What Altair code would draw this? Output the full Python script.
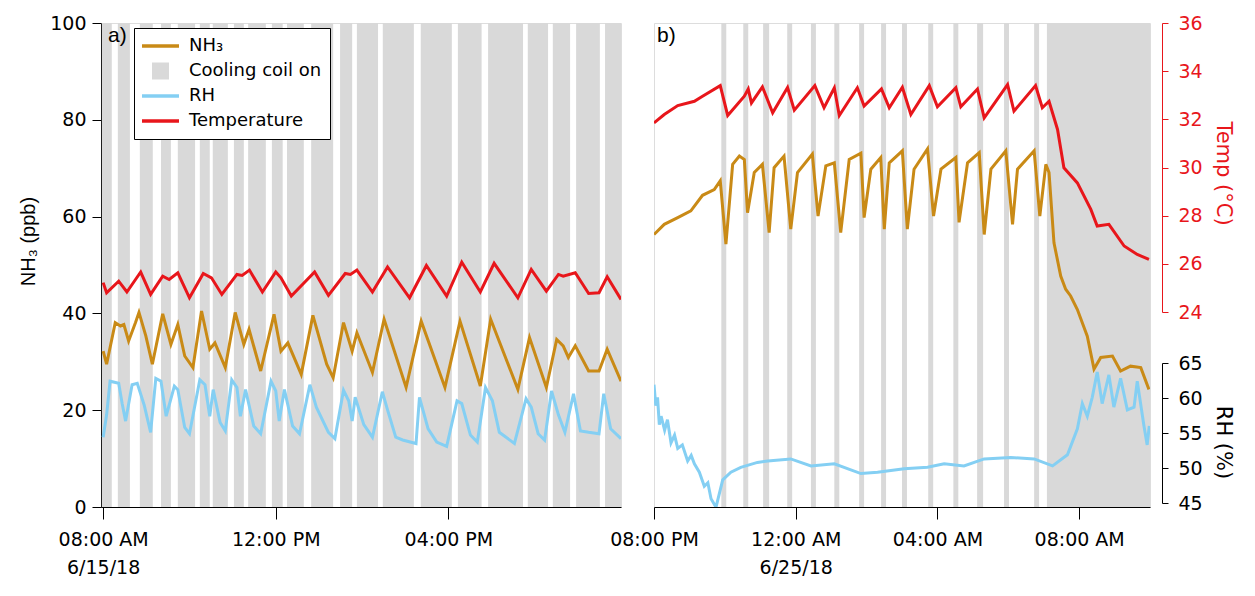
import altair as alt
import pandas as pd

# ---------------- data (decimal hours of the day) ----------------
# Panel a: 6/15/18
a_temp_h = [8.0, 8.08, 8.36, 8.55, 8.87, 9.10, 9.38, 9.53, 9.73, 10.00, 10.32, 10.51, 10.75, 11.10, 11.22,
            11.39, 11.69, 12.00, 12.12, 12.36, 12.90, 13.22, 13.61, 13.73, 13.88, 14.24, 14.59, 15.10, 15.49,
            15.96, 16.31, 16.74, 17.06, 17.61, 17.92, 18.27, 18.55, 18.66, 18.94, 19.25, 19.49, 19.68, 20.0]
a_temp = [25.22, 24.80, 25.28, 24.83, 25.66, 24.73, 25.49, 25.35, 25.63, 24.59, 25.60, 25.42, 24.73, 25.56, 25.52,
          25.74, 24.83, 25.66, 25.42, 24.66, 25.66, 24.69, 25.60, 25.56, 25.74, 24.83, 25.87, 24.59, 25.93,
          24.66, 26.07, 24.83, 26.02, 24.59, 25.77, 24.87, 25.56, 25.49, 25.63, 24.77, 24.80, 25.46, 24.52]

a_nh3_h = [8.0, 8.08, 8.28, 8.40, 8.48, 8.59, 8.75, 8.83, 8.99, 9.14, 9.38, 9.57, 9.73, 9.89, 10.08, 10.28,
           10.47, 10.59, 10.83, 11.06, 11.26, 11.38, 11.65, 11.96, 12.12, 12.28, 12.59, 12.86, 13.18, 13.33,
           13.57, 13.77, 13.88, 14.24, 14.51, 15.02, 15.37, 15.92, 16.27, 16.74, 16.98, 17.61, 17.88, 18.27,
           18.51, 18.66, 18.78, 18.94, 19.25, 19.49, 19.68, 20.0]
a_nh3 = [32.2, 29.5, 38.1, 37.4, 37.7, 34.3, 38.1, 40.2, 35.3, 29.5, 39.9, 33.6, 37.7, 31.2, 28.8, 40.5,
         32.6, 33.9, 28.8, 40.2, 33.6, 36.7, 28.1, 39.8, 32.2, 33.9, 27.4, 39.6, 29.5, 26.7,
         38.1, 32.2, 36.0, 27.8, 38.8, 24.7, 38.4, 24.7, 38.4, 25.0, 38.8, 24.3, 35.0, 24.7,
         34.6, 33.3, 30.9, 33.3, 28.1, 28.1, 32.6, 26.0]

a_rh_h = [8.0, 8.08, 8.16, 8.36, 8.44, 8.52, 8.67, 8.79, 8.95, 9.10, 9.22, 9.34, 9.46, 9.65, 9.73, 9.89,
          10.00, 10.24, 10.36, 10.47, 10.55, 10.71, 10.83, 10.98, 11.10, 11.18, 11.30, 11.49, 11.65, 11.89,
          12.00, 12.08, 12.20, 12.39, 12.55, 12.79, 12.94, 13.22, 13.37, 13.57, 13.69, 13.77, 13.84, 14.04,
          14.24, 14.47, 14.59, 14.78, 14.94, 15.25, 15.33, 15.53, 15.73, 15.96, 16.20, 16.31, 16.51, 16.67,
          16.86, 17.02, 17.18, 17.53, 17.80, 17.92, 18.08, 18.23, 18.39, 18.55, 18.70, 18.90, 19.06, 19.25,
          19.49, 19.60, 19.76, 20.0]
a_rh = [54.4, 57.6, 62.4, 62.1, 59.2, 56.7, 61.9, 62.1, 59.0, 55.1, 62.8, 62.4, 57.4, 61.7, 61.2, 55.8,
        54.9, 62.6, 61.9, 57.4, 61.2, 56.5, 55.3, 62.6, 61.5, 57.4, 61.2, 56.0, 54.9, 62.4,
        61.0, 56.7, 61.2, 56.0, 54.9, 61.9, 58.7, 55.1, 54.2, 61.1, 59.6, 56.7, 60.1, 56.2,
        54.4, 60.9, 58.3, 54.4, 54.0, 53.5, 60.1, 55.6, 53.7, 53.1, 59.6, 59.2, 54.7, 53.7,
        61.5, 59.6, 55.1, 53.5, 59.9, 58.7, 54.9, 54.0, 61.0, 57.6, 55.1, 60.6, 55.3, 55.1,
        54.9, 60.6, 55.6, 54.2]

a_coil_on = [7.97, 8.34, 8.85, 9.34, 9.73, 10.24, 10.54, 11.03, 11.36, 11.91, 12.26, 12.82, 13.49, 13.88,
             14.48, 15.36, 16.22, 16.92, 17.84, 18.42, 18.96, 19.63]
a_coil_off = [8.20, 8.62, 9.15, 9.57, 10.13, 10.47, 10.89, 11.26, 11.77, 12.16, 12.65, 13.33, 13.77, 14.37,
              15.20, 16.08, 16.77, 17.73, 18.31, 18.82, 19.51, 20.0]

# Panel b: hours counted from midnight of 6/24/18 (values > 24 fall on 6/25/18)
b_temp_h = [20.0, 20.29, 20.67, 21.14, 21.37, 21.87, 22.08, 22.55, 22.66, 22.75, 23.06, 23.35, 23.77, 23.96,
            24.54, 24.80, 25.09, 25.23, 25.74, 25.93, 26.42, 26.64, 27.01, 27.25, 27.77, 28.00, 28.52, 28.66,
            29.13, 29.32, 29.98, 30.16, 30.77, 30.96, 31.15, 31.39, 31.57, 31.95, 32.33, 32.51, 32.84, 33.27,
            33.64, 33.97]
b_temp = [31.85, 32.20, 32.57, 32.75, 32.96, 33.40, 32.16, 32.96, 33.26, 32.68, 33.35, 32.27, 33.32, 32.38,
          33.40, 32.48, 33.31, 32.16, 33.31, 32.55, 33.26, 32.48, 33.33, 32.20, 33.40, 32.52, 33.31, 32.52,
          33.26, 32.06, 33.44, 32.34, 33.40, 32.48, 32.75, 31.58, 29.99, 29.36, 28.26, 27.57, 27.64, 26.74,
          26.39, 26.18]

b_nh3_h = [20.0, 20.29, 20.67, 21.04, 21.37, 21.70, 21.87, 22.03, 22.22, 22.41, 22.55, 22.64, 22.83, 23.06,
           23.25, 23.39, 23.67, 23.86, 24.05, 24.47, 24.63, 24.85, 25.09, 25.27, 25.51, 25.84, 25.93, 26.12,
           26.40, 26.50, 26.64, 27.01, 27.15, 27.34, 27.72, 27.89, 28.10, 28.52, 28.61, 28.85, 29.18, 29.32,
           29.51, 29.93, 30.12, 30.26, 30.73, 30.89, 31.06, 31.15, 31.29, 31.48, 31.62, 31.76, 31.95, 32.23,
           32.42, 32.61, 32.94, 33.17, 33.45, 33.74, 33.97]
b_nh3 = [56.3, 58.4, 59.8, 61.2, 64.4, 65.6, 67.4, 54.3, 70.8, 72.5, 71.8, 60.8, 69.1, 70.8,
         56.7, 70.1, 72.5, 57.4, 69.1, 72.9, 60.1, 70.5, 71.1, 56.7, 71.8, 73.1, 59.8, 69.8,
         72.2, 57.4, 71.1, 73.6, 57.4, 69.8, 74.0, 60.1, 69.8, 72.2, 58.8, 71.1, 73.2, 56.3,
         69.8, 73.6, 58.4, 69.8, 73.6, 60.1, 70.8, 69.1, 54.6, 47.7, 45.0, 43.6, 40.8, 35.3,
         28.5, 30.9, 31.2, 28.1, 29.1, 28.8, 24.3]

b_rh_h = [20.0, 20.05, 20.10, 20.15, 20.20, 20.30, 20.38, 20.48, 20.58, 20.67, 20.80, 20.95, 21.05, 21.14,
          21.28, 21.42, 21.52, 21.61, 21.75, 21.94, 22.17, 22.45, 22.92, 23.21, 23.86, 24.43, 25.09, 25.84,
          26.31, 27.06, 27.72, 28.19, 28.75, 29.32, 30.07, 30.73, 31.25, 31.67, 31.95, 32.09, 32.23, 32.37,
          32.51, 32.65, 32.84, 32.98, 33.17, 33.36, 33.55, 33.64, 33.83, 33.92, 33.98]
b_rh = [61.9, 58.9, 60.1, 56.2, 57.4, 55.4, 56.9, 53.6, 54.7, 52.8, 53.3, 51.0, 51.8, 50.6,
        49.4, 47.4, 47.9, 45.6, 44.4, 48.3, 49.4, 50.1, 50.8, 51.0, 51.3, 50.3, 50.6, 49.2,
        49.4, 49.9, 50.1, 50.6, 50.3, 51.3, 51.5, 51.3, 50.3, 51.9, 55.6, 59.2, 57.4, 60.1,
        63.7, 59.2, 63.3, 58.7, 62.8, 58.3, 58.7, 62.4, 56.0, 53.3, 56.0]

b_coil_on = [21.90, 22.52, 23.08, 23.76, 24.43, 25.09, 25.79, 26.41, 27.00, 27.74, 28.45, 29.12, 29.88,
             30.73, 31.09]
b_coil_off = [22.04, 22.66, 23.25, 23.90, 24.57, 25.23, 25.93, 26.55, 27.14, 27.88, 28.59, 29.29, 30.02,
              30.87, 34.0]

legend_names = ["NH\u2083", "Cooling coil on", "RH", "Temperature"]

# ---------------- styling ----------------
C_NH3 = "#c98a16"
C_RH = "#84cff3"
C_T = "#e8161b"
C_COIL = "#d9d9d9"
LBL_FONT = "DejaVu Sans"
TTL_FONT = "Liberation Sans"
H = 484
WA = 520
WB = 496
LW = 3

# legend glyphs (unit-space SVG paths, scaled by the symbol size)
LINE_GLYPH = "M-1,-0.1L1,-0.1L1,0.1L-1,0.1Z"
SQUARE_GLYPH = "M-0.46,-0.46L0.46,-0.46L0.46,0.46L-0.46,0.46Z"


def ts(day, hours):
    base = pd.Timestamp(day)
    return [(base + pd.to_timedelta(h, unit="h")).strftime("%Y-%m-%dT%H:%M:%S") for h in hours]


def series(day, hours, vals):
    return pd.DataFrame({"t": ts(day, hours), "v": vals})


def coil(day, on, off):
    return pd.DataFrame({"s": ts(day, on), "e": ts(day, off)})


def dt(d, h, m=0):
    return alt.DateTime(year=2018, month=6, date=d, hours=h, minutes=m)


xaxis_common = dict(title=None, tickSize=12, labelPadding=11, labelLineHeight=28, labelFlush=False,
                    labelOverlap=False, labelFont=LBL_FONT, labelFontSize=19, labelColor="black",
                    domainColor="black", tickColor="black", grid=False)

xa_scale = alt.Scale(domain=[dt(15, 7, 57), dt(15, 20, 0)])
xa_axis = alt.Axis(values=[dt(15, 8), dt(15, 12), dt(15, 16)],
                   labelExpr="hours(datum.value) == 8 ? [timeFormat(datum.value, '%I:%M %p'), '6/15/18'] : timeFormat(datum.value, '%I:%M %p')",
                   **xaxis_common)
xb_scale = alt.Scale(domain=[dt(24, 20, 0), dt(25, 10, 0)])
xb_axis = alt.Axis(values=[dt(24, 20), dt(25, 0), dt(25, 4), dt(25, 8)],
                   labelExpr="hours(datum.value) == 0 ? [timeFormat(datum.value, '%I:%M %p'), '6/25/18'] : timeFormat(datum.value, '%I:%M %p')",
                   **xaxis_common)

nh3_scale = alt.Scale(domain=[0, 100])
temp_scale = alt.Scale(domain=[24, 36], range=[289, 0])
rh_scale = alt.Scale(domain=[45, 65], range=[480, 340])

nh3_axis = alt.Axis(values=[0, 20, 40, 60, 80, 100], title="NH\u2083 (ppb)", tickSize=9, labelPadding=6,
                    titlePadding=11, titleY=218, labelFont=LBL_FONT, labelFontSize=19, titleFont=TTL_FONT,
                    titleFontSize=20, titleFontWeight="normal", domainColor="black", tickColor="black",
                    labelColor="black", titleColor="black", grid=False)
temp_axis = alt.Axis(orient="right", offset=12, values=[24, 26, 28, 30, 32, 34, 36], title="Temp (\u00b0C)",
                     tickSize=6, labelPadding=10, titlePadding=10, titleY=150, labelFont=LBL_FONT,
                     labelFontSize=19, titleFont=LBL_FONT, titleFontSize=21, titleFontWeight="normal",
                     domainColor=C_T, tickColor=C_T, labelColor=C_T, titleColor=C_T, grid=False)
rh_axis = alt.Axis(orient="right", offset=12, values=[45, 50, 55, 60, 65], title="RH (%)",
                   tickSize=6, labelPadding=10, titlePadding=10, titleY=419, labelFont=LBL_FONT,
                   labelFontSize=19, titleFont=LBL_FONT, titleFontSize=21, titleFontWeight="normal",
                   domainColor="black", tickColor="black", labelColor="black", titleColor="black", grid=False)


def panel(xs, xax, coil_df, nh3_df, temp_df, rh_df, label, label_x, right_axes, width, extra=None):
    def X(f):
        return alt.X(f, scale=xs, axis=xax)
    stripes = alt.Chart(coil_df).mark_rect(color=C_COIL, clip=True).encode(x=X("s:T"), x2="e:T")
    nh3 = alt.Chart(nh3_df).mark_line(color=C_NH3, strokeWidth=LW, clip=True).encode(
        x=X("t:T"), y=alt.Y("v:Q", scale=nh3_scale, axis=None if right_axes else nh3_axis))
    temp = alt.Chart(temp_df).mark_line(color=C_T, strokeWidth=LW, clip=True).encode(
        x=X("t:T"), y=alt.Y("v:Q", scale=temp_scale, axis=temp_axis if right_axes else None))
    rh = alt.Chart(rh_df).mark_line(color=C_RH, strokeWidth=LW, clip=True).encode(
        x=X("t:T"), y=alt.Y("v:Q", scale=rh_scale, axis=rh_axis if right_axes else None))
    lab = alt.Chart(pd.DataFrame({"lab": [label]})).mark_text(
        font=TTL_FONT, fontSize=21, align="left", baseline="middle", color="black").encode(
        x=alt.value(label_x), y=alt.value(13), text="lab:N")
    layers = [stripes, rh, nh3, temp, lab]
    if extra is not None:
        layers.append(extra)
    return alt.layer(*layers).resolve_scale(y="independent").properties(width=width, height=H)


leg = alt.Legend(title=None, orient="none", legendX=33, legendY=5, padding=8,
                 fillColor="white", strokeColor="black",
                 labelFont=LBL_FONT, labelFontSize=18, labelColor="black", labelOffset=10,
                 symbolSize=1369, symbolStrokeWidth=0, clipHeight=20, rowPadding=5, symbolOpacity=1)
legend_layer = alt.Chart(pd.DataFrame({"k": legend_names})).transform_filter("false").mark_point(
    filled=True).encode(
    color=alt.Color("k:N", scale=alt.Scale(domain=legend_names, range=[C_NH3, C_COIL, C_RH, C_T]), legend=leg),
    shape=alt.Shape("k:N", scale=alt.Scale(domain=legend_names,
                                           range=[LINE_GLYPH, SQUARE_GLYPH, LINE_GLYPH, LINE_GLYPH]), legend=leg))

panel_a = panel(xa_scale, xa_axis, coil("2018-06-15", a_coil_on, a_coil_off),
                series("2018-06-15", a_nh3_h, a_nh3), series("2018-06-15", a_temp_h, a_temp),
                series("2018-06-15", a_rh_h, a_rh), "a)", 7, False, WA, legend_layer)
panel_b = panel(xb_scale, xb_axis, coil("2018-06-24", b_coil_on, b_coil_off),
                series("2018-06-24", b_nh3_h, b_nh3), series("2018-06-24", b_temp_h, b_temp),
                series("2018-06-24", b_rh_h, b_rh), "b)", 3, True, WB)

chart = alt.hconcat(panel_a, panel_b, spacing=33, bounds="flush").properties(
    padding={"left": 10, "top": 5, "right": 2, "bottom": 5}
).configure_view(stroke=None).configure(background="white")

chart.save("out.html", embed_options={"renderer": "svg", "actions": False})
